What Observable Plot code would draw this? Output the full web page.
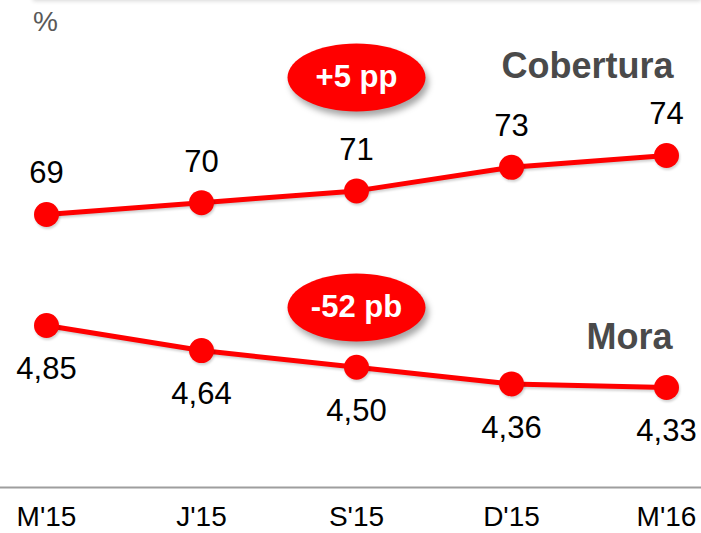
<!DOCTYPE html>
<html>
<head>
<meta charset="utf-8">
<script src="https://cdn.jsdelivr.net/npm/d3@7"></script>
<script src="https://cdn.jsdelivr.net/npm/@observablehq/plot@0.6"></script>
<style>
  html, body { margin: 0; padding: 0; background: #fff; }
  #chart { position: relative; width: 701px; height: 533px; overflow: hidden; }
  #chart svg { position: absolute; left: 0; top: 0; }
  #chart .edge { position: absolute; left: 33px; right: 0; top: -6px; height: 6px; box-shadow: 0 1px 4px rgba(0,0,0,0.16); }
</style>
</head>
<body>
<div id="chart"><div class="edge"></div></div>
<script>
// Periods and the two series (cobertura on top, mora below)
const periods = ["M'15", "J'15", "S'15", "D'15", "M'16"];
const cobertura = [69, 70, 71, 73, 74];
const mora = [4.85, 4.64, 4.50, 4.36, 4.33];
const seriesNames = ["Cobertura", "Mora"];
const changeLabels = ["+5 pp", "-52 pb"];
const changePeriod = "S'15";
const unitLabel = "%";

const red = "#ff0000";
const font = '"Liberation Sans", Arial, Helvetica, sans-serif';
const rows = (vals) => periods.map((p, i) => ({period: p, value: vals[i]}));
const cobRows = rows(cobertura);
const moraRows = rows(mora);
const comma = (v) => v.toFixed(2).replace(".", ",");

// Ellipse symbol for the change badges
function ellipse(rx, ry) {
  const k = 0.5523;
  return {
    draw(ctx) {
      ctx.moveTo(rx, 0);
      ctx.bezierCurveTo(rx, ry * k, rx * k, ry, 0, ry);
      ctx.bezierCurveTo(-rx * k, ry, -rx, ry * k, -rx, 0);
      ctx.bezierCurveTo(-rx, -ry * k, -rx * k, -ry, 0, -ry);
      ctx.bezierCurveTo(rx * k, -ry, rx, -ry * k, rx, 0);
      ctx.closePath();
    }
  };
}
const badgeSymbol = ellipse(69, 34);

const xScale = {type: "point", domain: periods, range: [45, 667], padding: 0};
const baseStyle = {background: "transparent", overflow: "visible", fontFamily: font};

// Upper panel: Cobertura
const topPlot = Plot.plot({
  width: 701, height: 533, margin: 0,
  style: baseStyle,
  x: {...xScale, axis: null},
  y: {domain: [69, 74], range: [214, 155], axis: null},
  marks: [
    Plot.text([unitLabel], {frameAnchor: "top-left", dx: 45, dy: 22, text: d => d, textAnchor: "middle", lineAnchor: "middle", fontSize: 28, fill: "#595959"}),
    Plot.line(cobRows, {x: "period", y: "value", stroke: red, strokeWidth: 5}),
    Plot.dot(cobRows, {x: "period", y: "value", r: 12.5, fill: red}),
    Plot.text(cobRows, {x: "period", y: "value", text: d => String(d.value), dy: -41, fontSize: 31, fill: "#000"}),
    Plot.text([seriesNames[0]], {frameAnchor: "top-right", dx: -28, dy: 66, text: d => d, textAnchor: "end", lineAnchor: "middle", fontSize: 36, fontWeight: "bold", fill: "#4a4a4a"}),
    Plot.dot([{period: changePeriod, label: changeLabels[0]}], {x: "period", frameAnchor: "top", dy: 77, symbol: badgeSymbol, fill: red, stroke: "none"}),
    Plot.text([{period: changePeriod, label: changeLabels[0]}], {x: "period", frameAnchor: "top", dy: 77, text: "label", lineAnchor: "middle", fontSize: 31, fontWeight: "bold", fill: "#fff"})
  ]
});

// Lower panel: Mora, with the period axis
const bottomPlot = Plot.plot({
  width: 701, height: 533, margin: 0, marginBottom: 46,
  style: baseStyle,
  x: {...xScale},
  y: {domain: [4.33, 4.85], range: [387, 325], axis: null},
  marks: [
    Plot.frame({anchor: "bottom", stroke: "#9e9e9e", strokeWidth: 2}),
    Plot.axisX({tickSize: 0, tickPadding: 19, fontSize: 28, fill: "#000", label: null}),
    Plot.line(moraRows, {x: "period", y: "value", stroke: red, strokeWidth: 5}),
    Plot.dot(moraRows, {x: "period", y: "value", r: 12.5, fill: red}),
    Plot.text(moraRows, {x: "period", y: "value", text: d => comma(d.value), dy: 44, fontSize: 31, fill: "#000"}),
    Plot.text([seriesNames[1]], {frameAnchor: "top-right", dx: -29, dy: 337, text: d => d, textAnchor: "end", lineAnchor: "middle", fontSize: 36, fontWeight: "bold", fill: "#4a4a4a"}),
    Plot.dot([{period: changePeriod, label: changeLabels[1]}], {x: "period", frameAnchor: "top", dy: 307, symbol: badgeSymbol, fill: red, stroke: "none"}),
    Plot.text([{period: changePeriod, label: changeLabels[1]}], {x: "period", frameAnchor: "top", dy: 307, text: "label", lineAnchor: "middle", fontSize: 31, fontWeight: "bold", fill: "#fff"})
  ]
});

// Soft shadows: light on the series, stronger under the badges
for (const svg of [topPlot, bottomPlot]) {
  svg.querySelectorAll(':scope > g[aria-label="line"]').forEach(g => g.style.filter = "drop-shadow(1px 2px 1px rgba(0,0,0,0.18))");
  const dots = svg.querySelectorAll(':scope > g[aria-label="dot"]');
  if (dots[0]) dots[0].style.filter = "drop-shadow(1px 2px 1px rgba(0,0,0,0.18))";
  if (dots[1]) dots[1].style.filter = "drop-shadow(3px 5px 3px rgba(0,0,0,0.35))";
}

const chart = document.getElementById("chart");
chart.appendChild(bottomPlot);
chart.appendChild(topPlot);
</script>
</body>
</html>
